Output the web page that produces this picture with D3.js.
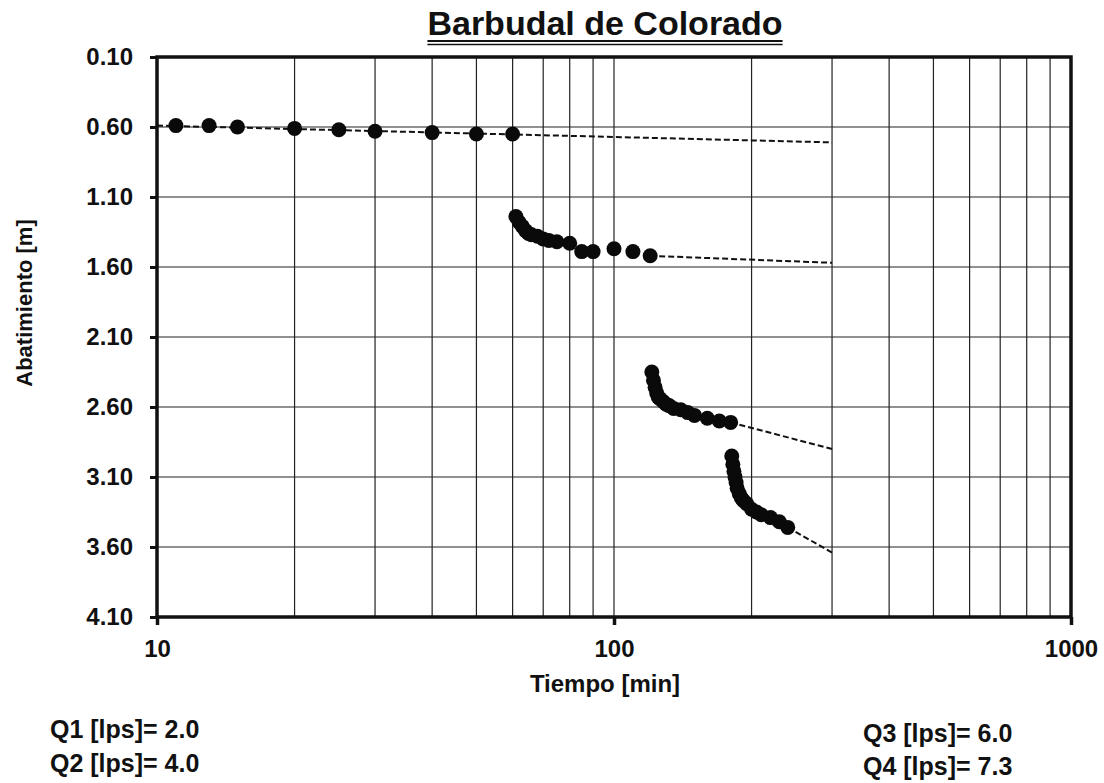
<!DOCTYPE html>
<html>
<head>
<meta charset="utf-8">
<script src="https://cdn.jsdelivr.net/npm/d3@7"></script>
<style>
  body { margin: 0; background: #fff; }
  svg text { font-family: "Liberation Sans", Arial, sans-serif; font-weight: bold; fill: #111; }
</style>
</head>
<body>
<script>
"use strict";

// tiempos [min] y abatimientos [m] de cada escalon
const timeQ1 = [11, 13, 15, 20, 25, 30, 40, 50, 60];
const drawQ1 = [0.59, 0.59, 0.60, 0.61, 0.62, 0.63, 0.64, 0.65, 0.65];

const timeQ2 = [61, 62, 63, 64, 65, 66, 68, 70, 72, 75, 80, 85, 90, 100, 110, 120];
const drawQ2 = [1.24, 1.28, 1.31, 1.34, 1.36, 1.37, 1.38, 1.40, 1.41, 1.42, 1.43, 1.49, 1.49, 1.47, 1.49, 1.52];

const timeQ3 = [121, 122, 123, 124, 125, 126, 128, 130, 132, 135, 140, 145, 150, 160, 170, 180];
const drawQ3 = [2.35, 2.41, 2.46, 2.50, 2.53, 2.54, 2.56, 2.58, 2.59, 2.61, 2.62, 2.64, 2.66, 2.68, 2.70, 2.71];

const timeQ4 = [181, 182, 183, 184, 185, 186, 188, 190, 192, 195, 200, 205, 210, 220, 230, 240];
const drawQ4 = [2.95, 3.01, 3.06, 3.10, 3.14, 3.18, 3.22, 3.25, 3.27, 3.29, 3.33, 3.35, 3.37, 3.39, 3.42, 3.46];

// rectas de ajuste (extrapolacion)
const fitT0 = [10, 120, 180, 240];
const fitD0 = [0.59, 1.52, 2.71, 3.46];
const fitT1 = [300, 300, 300, 300];
const fitD1 = [0.71, 1.57, 2.90, 3.64];

const yTicks = [0.10, 0.60, 1.10, 1.60, 2.10, 2.60, 3.10, 3.60, 4.10];
const xTicks = [10, 100, 1000];
const xGrid = [20, 30, 40, 50, 60, 70, 80, 90, 100, 200, 300, 400, 500, 600, 700, 800, 900];

const caudales = ["Q1 [lps]= 2.0", "Q2 [lps]= 4.0", "Q3 [lps]= 6.0", "Q4 [lps]= 7.3"];

const w = 1104, h = 783;
const pLeft = 157, pRight = 1071, pTop = 57, pBottom = 617;

const svg = d3.select("body").append("svg")
  .attr("width", w).attr("height", h);

const xScale = d3.scaleLog().domain([10, 1000]).range([pLeft, pRight]);
const yScale = d3.scaleLinear().domain([0.1, 4.1]).range([pTop, pBottom]);

// rejilla
svg.append("g").selectAll("line").data(xGrid).enter().append("line")
  .attr("x1", d => xScale(d)).attr("x2", d => xScale(d))
  .attr("y1", pTop).attr("y2", pBottom)
  .attr("stroke", "#222").attr("stroke-width", 1.2);

svg.append("g").selectAll("line").data(yTicks.slice(1, -1)).enter().append("line")
  .attr("x1", pLeft).attr("x2", pRight)
  .attr("y1", d => yScale(d)).attr("y2", d => yScale(d))
  .attr("stroke", "#222").attr("stroke-width", 1.2);

// ejes
const yAxis = d3.axisLeft(yScale).tickValues(yTicks).tickFormat(d3.format(".2f"))
  .tickSize(7).tickPadding(17);
const gy = svg.append("g").attr("transform", "translate(" + pLeft + ",0)").call(yAxis);
gy.select(".domain").remove();
gy.selectAll(".tick line").attr("stroke", "#111").attr("stroke-width", 3);
gy.selectAll(".tick text").style("font-size", "24px");

const xAxis = d3.axisBottom(xScale).tickValues(xTicks).tickFormat(d3.format("d"))
  .tickSize(8).tickPadding(15);
const gx = svg.append("g").attr("transform", "translate(0," + pBottom + ")").call(xAxis);
gx.select(".domain").remove();
gx.selectAll(".tick line").attr("stroke", "#111").attr("stroke-width", 3.5);
gx.selectAll(".tick text").style("font-size", "24px");

// marco
svg.append("rect")
  .attr("x", pLeft).attr("y", pTop)
  .attr("width", pRight - pLeft).attr("height", pBottom - pTop)
  .attr("fill", "none").attr("stroke", "#111").attr("stroke-width", 3.5);

// rectas punteadas
const fits = fitT0.map((t, i) => [[t, fitD0[i]], [fitT1[i], fitD1[i]]]);
svg.append("g").selectAll("line").data(fits).enter().append("line")
  .attr("x1", d => xScale(d[0][0])).attr("y1", d => yScale(d[0][1]))
  .attr("x2", d => xScale(d[1][0])).attr("y2", d => yScale(d[1][1]))
  .attr("stroke", "#111").attr("stroke-width", 2)
  .attr("stroke-dasharray", "6,3");

// puntos
const series = [[timeQ1, drawQ1], [timeQ2, drawQ2], [timeQ3, drawQ3], [timeQ4, drawQ4]];
series.forEach(s => {
  const pts = s[0].map((t, i) => [t, s[1][i]]);
  svg.append("g").selectAll("circle").data(pts).enter().append("circle")
    .attr("cx", d => xScale(d[0]))
    .attr("cy", d => yScale(d[1]))
    .attr("r", 7.5)
    .attr("fill", "#0a0a0a");
});

// titulos
const title = svg.append("text")
  .attr("x", 605).attr("y", 35)
  .attr("text-anchor", "middle")
  .style("font-size", "34px")
  .text("Barbudal de Colorado");
const tw = title.node().getComputedTextLength();
svg.append("line").attr("x1", 605 - tw / 2).attr("x2", 605 + tw / 2)
  .attr("y1", 41).attr("y2", 41).attr("stroke", "#111").attr("stroke-width", 2.2);
svg.append("line").attr("x1", 605 - tw / 2).attr("x2", 605 + tw / 2)
  .attr("y1", 44.5).attr("y2", 44.5).attr("stroke", "#111").attr("stroke-width", 1.3);

svg.append("text")
  .attr("transform", "translate(32,303) rotate(-90)")
  .attr("text-anchor", "middle")
  .style("font-size", "22px")
  .text("Abatimiento [m]");

svg.append("text")
  .attr("x", 605).attr("y", 692)
  .attr("text-anchor", "middle")
  .style("font-size", "24px")
  .text("Tiempo [min]");

// caudales
const qPos = [[50, 738], [50, 772], [863, 742], [863, 775]];
svg.append("g").selectAll("text").data(caudales).enter().append("text")
  .attr("x", (d, i) => qPos[i][0]).attr("y", (d, i) => qPos[i][1])
  .style("font-size", "25px")
  .text(d => d);
</script>
</body>
</html>
